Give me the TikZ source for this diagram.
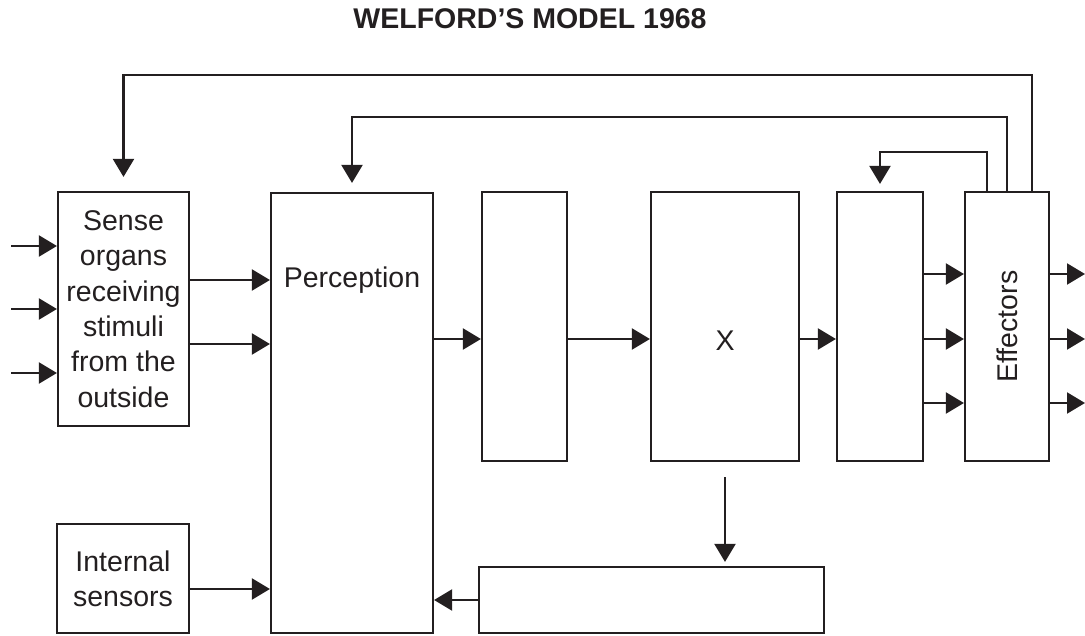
\documentclass[tikz,border=0pt]{standalone}
\usepackage{fontspec}
\setmainfont{Liberation Sans}
\usepackage{xcolor}
\usetikzlibrary{arrows.meta}
\definecolor{ink}{RGB}{35,31,32}

\begin{document}
\begin{tikzpicture}[x=1pt,y=1pt,yscale=-1,xscale=1,
  box/.style={draw=ink, line width=2.2pt, inner sep=0pt, align=center, text=ink, font=\fontsize{28.5}{35.3}\selectfont},
  lbl/.style={inner sep=0pt, text=ink, font=\fontsize{28.5}{35.3}\selectfont},
  arr/.style={draw=ink, line width=2.2pt, -{Triangle[length=18pt,width=21pt]}}]
\useasboundingbox (0,0) rectangle (1085,636);

\node[anchor=base, inner sep=0pt, text=ink, font=\bfseries\fontsize{28.5}{34}\selectfont] (title) at (530,29) {WELFORD'S MODEL 1968};

\node[box, minimum width=131pt, minimum height=234pt] (sense) at (123.5,309) {Sense\\organs\\receiving\\stimuli\\from the\\outside};
\node[box, minimum width=162pt, minimum height=440pt] (perc) at (352,413) {};
\node[box, minimum width=85pt, minimum height=269pt] (mid) at (524.5,326.5) {};
\node[box, minimum width=148pt, minimum height=269pt] (xbox) at (725,326.5) {};
\node[box, minimum width=86pt, minimum height=269pt] (pre) at (880,326.5) {};
\node[box, minimum width=84pt, minimum height=269pt] (eff) at (1007,326.5) {\rotatebox{90}{Effectors}};
\node[box, minimum width=132pt, minimum height=109pt] (intl) at (123,578.5) {Internal\\sensors};
\node[box, minimum width=345pt, minimum height=66pt] (store) at (651.5,600) {};

\node[lbl] (perctext) at (352,280) {Perception};
\node[lbl] (xtext) at (725,341) {X};

\coordinate (i1) at (11,246);
\coordinate (i2) at (11,309);
\coordinate (i3) at (11,373);
\coordinate (s1) at (0,280);
\coordinate (s2) at (0,344);
\coordinate (m) at (0,339);
\coordinate (o1) at (1085,274);
\coordinate (o2) at (1085,339);
\coordinate (o3) at (1085,403);
\coordinate (iy) at (0,589);
\coordinate (f1) at (1032,75);
\coordinate (f2) at (1007,117);
\coordinate (f3) at (987,152);

% stimuli in
\draw[arr] (i1) -- (sense.west |- i1);
\draw[arr] (i2) -- (sense.west |- i2);
\draw[arr] (i3) -- (sense.west |- i3);

\draw[arr] (sense.east |- s1) -- (perc.west |- s1);
\draw[arr] (sense.east |- s2) -- (perc.west |- s2);
\draw[arr] (intl.east |- iy) -- (perc.west |- iy);

\draw[arr] (perc.east |- m) -- (mid.west |- m);
\draw[arr] (mid.east |- m) -- (xbox.west |- m);
\draw[arr] (xbox.east |- m) -- (pre.west |- m);

\draw[arr] (pre.east |- o1) -- (eff.west |- o1);
\draw[arr] (pre.east |- o2) -- (eff.west |- o2);
\draw[arr] (pre.east |- o3) -- (eff.west |- o3);

% responses out
\draw[arr] (eff.east |- o1) -- (o1);
\draw[arr] (eff.east |- o2) -- (o2);
\draw[arr] (eff.east |- o3) -- (o3);

\draw[arr, shorten <=15pt, shorten >=4pt] (xbox.south) -- (xbox.south |- store.north);
\draw[arr] (store.west) -- (store.west -| perc.east);

% feedback loops
\draw[arr, shorten >=14pt] (eff.north -| f1) -- (f1) -| (sense.north);
\draw[arr, shorten >=9pt] (eff.north -| f2) -- (f2) -| (perc.north);
\draw[arr, shorten >=7pt] (eff.north -| f3) -- (f3) -| (pre.north);
\end{tikzpicture}
\end{document}
